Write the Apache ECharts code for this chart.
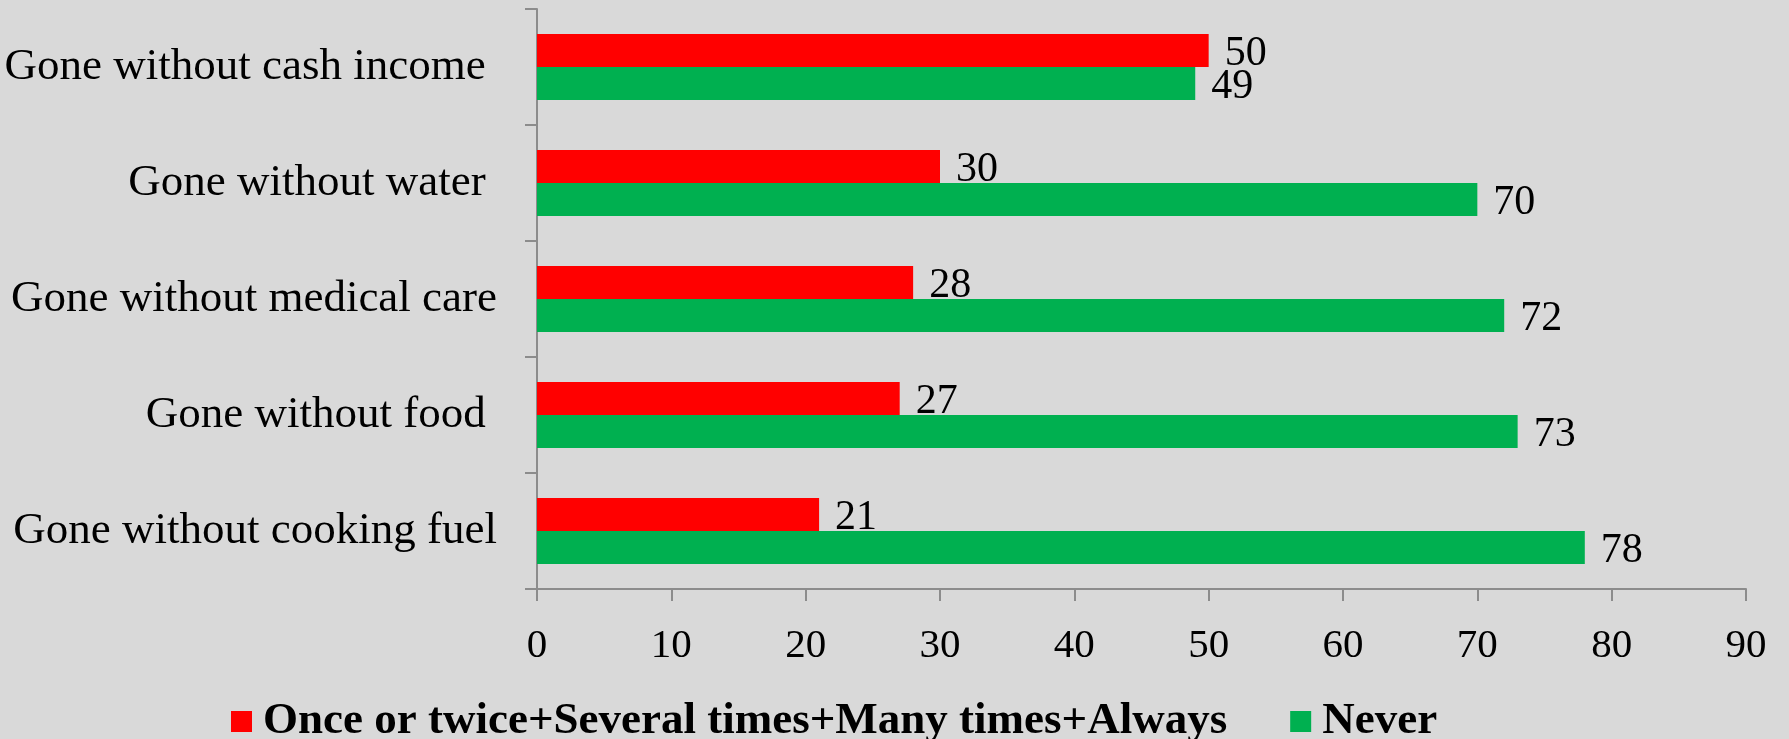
<!DOCTYPE html>
<html>
<head>
<meta charset="utf-8">
<script src="https://cdn.jsdelivr.net/npm/echarts@6/dist/echarts.min.js"></script>
<style>
  html, body { margin: 0; padding: 0; background: #d9d9d9; }
  #chart { width: 1789px; height: 739px; }
</style>
</head>
<body>
<div id="chart"></div>
<script>
// Categories (top to bottom) and the share of respondents per answer group
const categories = [
  'Gone without cash income ',
  'Gone without water ',
  'Gone without medical care',
  'Gone without food ',
  'Gone without cooking fuel'
];
const seriesNames = ['Once or twice+Several times+Many times+Always', 'Never'];
const atLeastOnce = [50, 30, 28, 27, 21];
const never = [49, 70, 72, 73, 78];
const xTicks = { min: 0, max: 90, interval: 10 };

const FONT = '"Liberation Serif", "Times New Roman", serif';
const AXIS_GREY = '#8c8c8c';

const chart = echarts.init(document.getElementById('chart'), null, { renderer: 'canvas' });

const valueLabel = {
  show: true,
  position: 'right',
  distance: 16,
  offset: [0, 3],
  color: '#000',
  fontFamily: FONT,
  fontSize: 42
};

chart.setOption({
  backgroundColor: '#d9d9d9',
  animation: false,
  grid: { left: 537, right: 43, top: 9, bottom: 150, containLabel: false },
  legend: {
    left: 226,
    top: 694,
    itemWidth: 21,
    itemHeight: 21,
    itemGap: 63,
    icon: 'rect',
    textStyle: {
      fontFamily: FONT,
      fontSize: 45,
      fontWeight: 'bold',
      color: '#000',
      lineHeight: 45,
      padding: [0, 0, 0, 6]
    },
    data: seriesNames
  },
  xAxis: {
    type: 'value',
    min: xTicks.min,
    max: xTicks.max,
    interval: xTicks.interval,
    axisLine: { show: true, lineStyle: { color: AXIS_GREY, width: 2 } },
    axisTick: { show: true, length: 12, lineStyle: { color: AXIS_GREY, width: 2 } },
    splitLine: { show: false },
    axisLabel: { margin: 37, color: '#000', fontFamily: FONT, fontSize: 41 }
  },
  yAxis: {
    type: 'category',
    inverse: true,
    data: categories,
    axisLine: { show: true, lineStyle: { color: AXIS_GREY, width: 2 } },
    axisTick: { show: true, length: 12, lineStyle: { color: AXIS_GREY, width: 2 } },
    axisLabel: { margin: 40, color: '#000', fontFamily: FONT, fontSize: 45 }
  },
  series: [
    {
      name: seriesNames[0],
      type: 'bar',
      data: atLeastOnce,
      barWidth: 33,
      barGap: '0%',
      itemStyle: { color: '#ff0000' },
      label: valueLabel
    },
    {
      name: seriesNames[1],
      type: 'bar',
      data: never,
      barWidth: 33,
      barGap: '0%',
      itemStyle: { color: '#00b050' },
      label: valueLabel
    }
  ]
});
</script>
</body>
</html>
